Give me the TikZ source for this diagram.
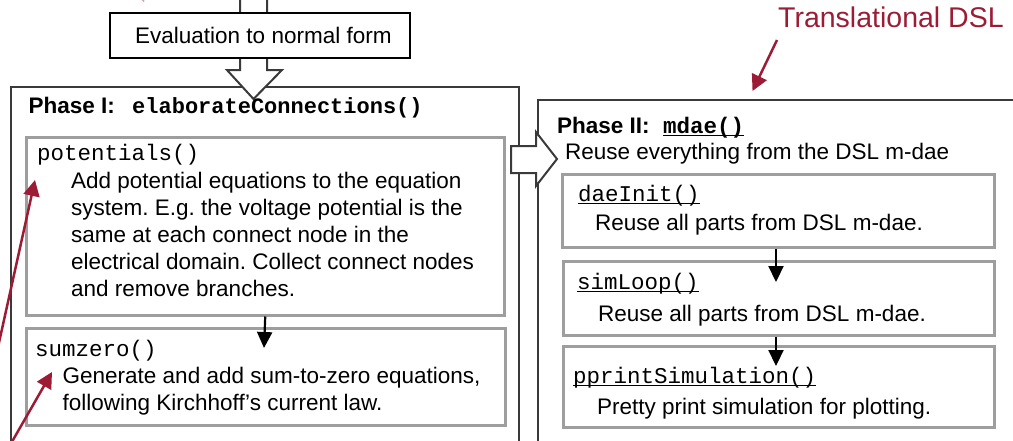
\documentclass[tikz,border=0pt]{standalone}
\usepackage{fontspec}
\setmainfont{Liberation Sans}
\setmonofont{Liberation Mono}
\usetikzlibrary{arrows.meta}
\frenchspacing
\definecolor{framec}{HTML}{3A3A3A}
\definecolor{subc}{HTML}{9E9E9E}
\definecolor{notec}{HTML}{9D1C35}
\tikzset{
  frame/.style={draw=framec, line width=2pt, anchor=north west, inner sep=0pt},
  subbox/.style={draw=subc, line width=2.5pt, fill=white, anchor=north west, inner sep=0pt},
  evalbox/.style={draw=black, line width=1.5pt, fill=white, anchor=north west, inner sep=0pt},
  hollow/.style={draw=framec, line width=2pt, fill=white, line join=miter},
  flow/.style={line width=2.2pt, -{Triangle[width=15pt,length=16pt]}},
  note/.style={draw=notec, line width=2.5pt, -{Triangle[width=16pt,length=16pt]}, color=notec},
  txt/.style={anchor=base west, inner sep=0pt, font=\fontsize{22.5}{27}\selectfont},
  code/.style={anchor=base west, inner sep=0pt, font=\fontsize{22.5}{27}\selectfont\ttfamily},
  uline/.style={line width=1.4pt},
}
\begin{document}
\begin{tikzpicture}[x=1pt, y=-1pt]
\useasboundingbox (0,0) rectangle (1013,440);
\clip (0,0) rectangle (1013,440);

% outer phase frames
\node[frame, minimum width=508pt, minimum height=380pt] (ph1) at (10,86) {};
\node[frame, minimum width=500pt, minimum height=370pt] (ph2) at (537,99) {};

% hollow arrows between stages
\path[hollow] (240,-20) -- (240,70) -- (227,70) -- (253.5,99) -- (282,70) -- (267,70) -- (267,-20) -- cycle;
\path[hollow] (511,146) -- (536,146) -- (536,132) -- (557,159) -- (536,186) -- (536,173) -- (511,173) -- cycle;

% evaluation step
\node[evalbox, minimum width=300pt, minimum height=45pt] (eval) at (109,12) {};
\node[txt] (evaltxt) at (135,43) {Evaluation to normal form};

% phase I
\node[txt] (ph1title) at (28.5,113) {\bfseries Phase I:};
\node[code, font=\fontsize{22}{27}\selectfont\ttfamily\bfseries] (ph1fn) at (132,113) {elaborateConnections()};

\node[subbox, minimum width=478pt, minimum height=178pt] (pot) at (25,136) {};
\node[code] (potfn) at (37,160) {potentials()};
\node[txt] (pot1) at (71,188) {Add potential equations to the equation};
\node[txt] (pot2) at (71,215) {system. E.g. the voltage potential is the};
\node[txt] (pot3) at (71,242) {same at each connect node in the};
\node[txt] (pot4) at (71,269) {electrical domain. Collect connect nodes};
\node[txt] (pot5) at (71,296) {and remove branches.};

\node[subbox, minimum width=479pt, minimum height=97pt] (sum) at (25,327) {};
\node[code] (sumfn) at (35,356) {sumzero()};
\node[txt] (sum1) at (62.5,383) {Generate and add sum-to-zero equations,};
\node[txt] (sum2) at (62.5,410) {following Kirchhoff’s current law.};

% phase II
\node[txt] (ph2title) at (557,133) {\bfseries Phase II:};
\node[code, font=\fontsize{22.5}{27}\selectfont\ttfamily\bfseries] (mdae) at (663,133) {mdae()};
\draw[uline] ([yshift=-2.5pt]mdae.base west) -- ([yshift=-2.5pt]mdae.base east);
\node[txt] (reuse) at (565,159) {Reuse everything from the DSL m-dae};

\node[subbox, minimum width=432pt, minimum height=73pt] (dinit) at (561,173) {};
\node[code] (dinitfn) at (578,201) {daeInit()};
\draw[uline] ([yshift=-2.5pt]dinitfn.base west) -- ([yshift=-2.5pt]dinitfn.base east);
\node[txt] (dinit1) at (595,230) {Reuse all parts from DSL m-dae.};

\node[subbox, minimum width=431pt, minimum height=74pt] (loop) at (562,260) {};
\node[code] (loopfn) at (577,289) {simLoop()};
\draw[uline] ([yshift=-2.5pt]loopfn.base west) -- ([yshift=-2.5pt]loopfn.base east);
\node[txt] (loop1) at (598,321) {Reuse all parts from DSL m-dae.};

\node[subbox, minimum width=431pt, minimum height=81pt] (pp) at (562,345) {};
\node[code] (ppfn) at (573,383) {pprintSimulation()};
\draw[uline] ([yshift=-2.5pt]ppfn.base west) -- ([yshift=-2.5pt]ppfn.base east);
\node[txt] (pp1) at (597,414) {Pretty print simulation for plotting.};

% control flow
\coordinate (potend) at (264,348);
\coordinate (dinitend) at (776,282);
\coordinate (loopend) at (776,366);
\draw[flow] (pot.south) -- (potend);
\draw[flow] (dinit.south -| dinitend) -- (dinitend);
\draw[flow] (loop.south -| loopend) -- (loopend);

% annotations
\node[anchor=base west, inner sep=0pt, text=notec, font=\fontsize{28.5}{32}\selectfont] (dsl) at (778,27) {Translational DSL};
\coordinate (dsltail) at (777,40);
\coordinate (dsltip) at (752.5,91);
\draw[note] (dsltail) -- (dsltip);
\coordinate (n1tail) at (-27,460);
\coordinate (n1tip) at (35,180);
\draw[note] (n1tail) -- (n1tip);
\coordinate (n2tail) at (1.5,460);
\coordinate (n2tip) at (52,372);
\draw[note] (n2tail) -- (n2tip);
\draw[notec, line width=1.5pt, opacity=0.4] (140,-3) -- (144,1.5);
\end{tikzpicture}
\end{document}
